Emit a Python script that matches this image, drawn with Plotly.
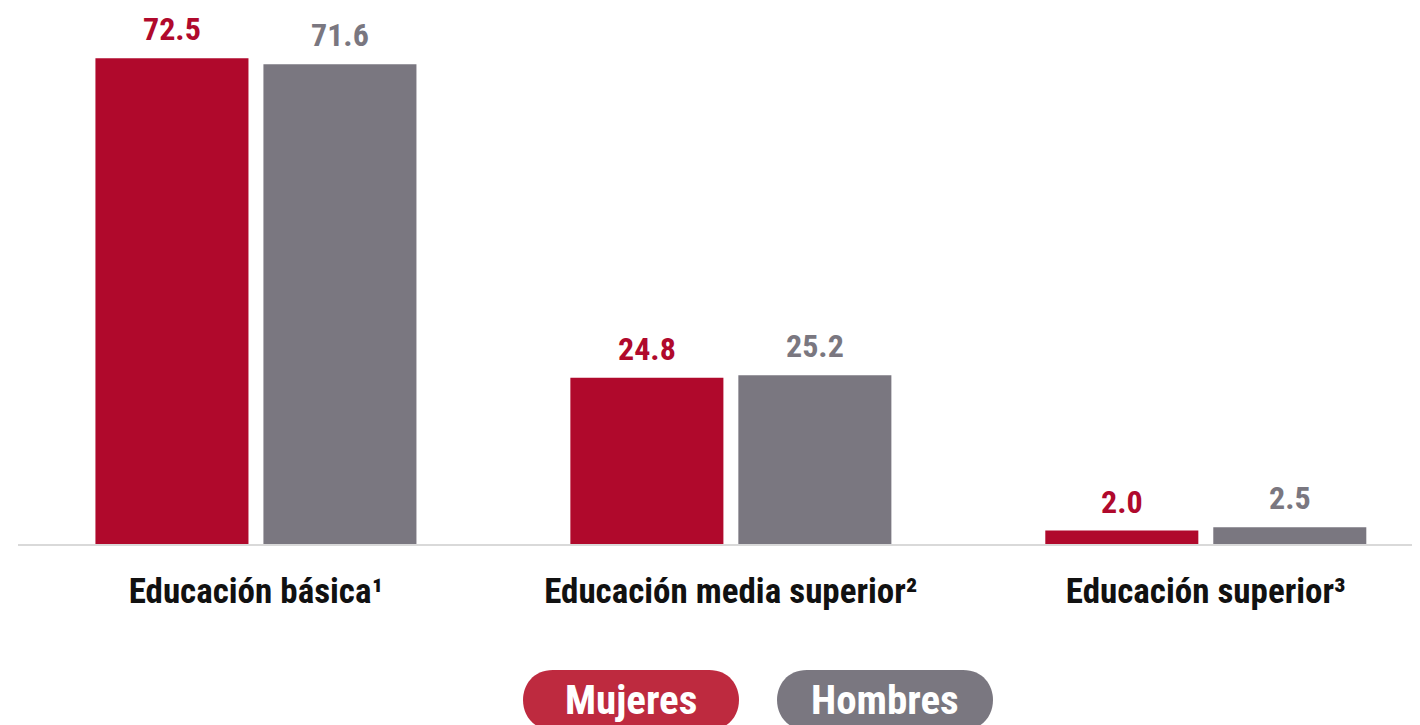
import plotly.graph_objects as go

categorias = ["Educación básica¹", "Educación media superior²", "Educación superior³"]
mujeres = [72.5, 24.8, 2.0]
hombres = [71.6, 25.2, 2.5]

ROJO = "#B0092C"
GRIS = "#7A7780"
ROJO_PILL = "#BE2A3F"
FUENTE = "Liberation Sans Narrow, Arial Narrow, Roboto Condensed, sans-serif"

fig = go.Figure()
fig.add_trace(go.Bar(name="Mujeres", x=categorias, y=mujeres, marker_color=ROJO,
                     marker_line_width=0, hoverinfo="y"))
fig.add_trace(go.Bar(name="Hombres", x=categorias, y=hombres, marker_color=GRIS,
                     marker_line_width=0, hoverinfo="y"))

# etiquetas de valor sobre cada barra
for serie, color, dx in [(mujeres, ROJO, -84), (hombres, GRIS, 84)]:
    for cat, val in zip(categorias, serie):
        fig.add_annotation(x=cat, y=val, text=f"<b>{val:.1f}</b>", showarrow=False,
                           xshift=dx, yshift=9, yanchor="bottom", borderpad=0,
                           font=dict(family=FUENTE, size=32, color=color))

# leyenda en forma de pastilla (el cuerpo de la página tiene 8px de margen)
alto_plot = 536
pill = "M -78,-30 L 78,-30 C 118,-30 118,30 78,30 L -78,30 C -118,30 -118,-30 -78,-30 Z"
for nombre, color, cx in [("Mujeres", ROJO_PILL, 631), ("Hombres", GRIS, 885)]:
    xa = (cx - 18) / 1402
    ya = (544 - 700) / alto_plot
    fig.add_shape(type="path", xref="paper", yref="paper", xsizemode="pixel",
                  ysizemode="pixel", xanchor=xa, yanchor=ya, path=pill,
                  fillcolor=color, line_width=0, layer="above")
    fig.add_annotation(x=xa, y=ya, xref="paper", yref="paper", text=f"<b>{nombre}</b>",
                       showarrow=False, xanchor="center", yanchor="middle",
                       font=dict(family=FUENTE, size=41, color="white"))

fig.update_layout(
    width=1412, height=717,
    barmode="group", bargap=0.2926, bargroupgap=0.089,
    showlegend=False,
    plot_bgcolor="white", paper_bgcolor="white",
    margin=dict(l=10, r=0, t=0, b=181),
    xaxis=dict(range=[-0.501, 2.451], showline=True, linecolor="#D9D9D9", linewidth=2,
               showgrid=False, ticks="", ticklabelstandoff=15,
               tickfont=dict(family=FUENTE, size=35, color="#111111"),
               tickvals=categorias, ticktext=[f"<b>{c}</b>" for c in categorias]),
    yaxis=dict(range=[0, 80.0], visible=False, showgrid=False, zeroline=False),
)

fig.write_html("out.html")
